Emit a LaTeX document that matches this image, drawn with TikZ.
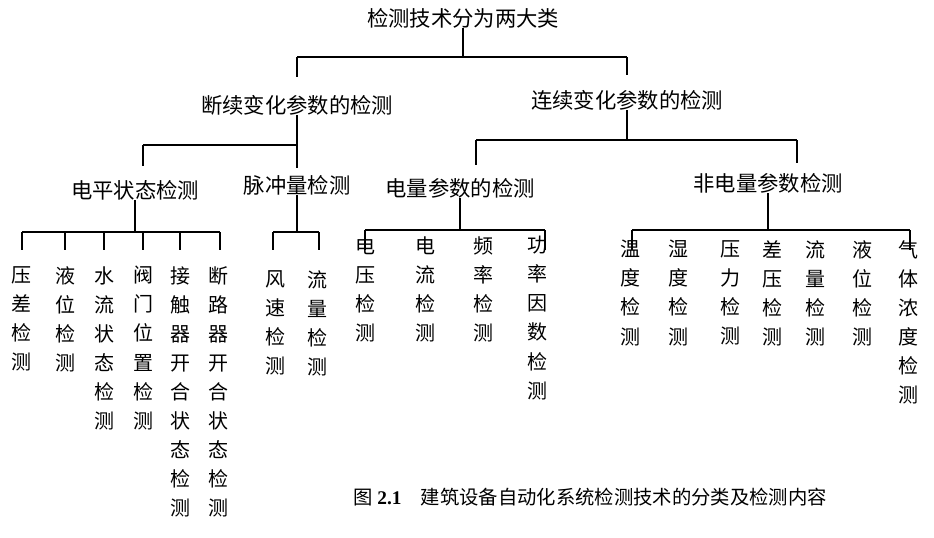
\documentclass[tikz,border=0pt]{standalone}
\usepackage{fontspec}
\setmainfont{Liberation Serif}
\newfontfamily\cjk{Noto Sans CJK SC}
\begin{document}
\begin{tikzpicture}[x=0.75pt,y=-0.75pt,
  hd/.style={font=\cjk\fontsize{16}{18}\selectfont,inner sep=0pt},
  lf/.style={font=\cjk\fontsize{15}{21.8}\selectfont,inner sep=0pt,anchor=north,align=center},
  ln/.style={line width=1.5pt}]
\useasboundingbox (0,0) rectangle (934,537);
\node[hd] (root) at (463,18) {检测技术分为两大类};
\node[hd] (a) at (297,105) {断续变化参数的检测};
\node[hd] (b) at (627,100) {连续变化参数的检测};
\node[hd] (a1) at (135,190) {电平状态检测};
\node[hd] (a2) at (297,185) {脉冲量检测};
\node[hd] (b1) at (460,188) {电量参数的检测};
\node[hd] (b2) at (768,183) {非电量参数检测};
% leaves
\foreach \n/\x/\t in {c1/22/压\\差\\检\\测, c2/65/液\\位\\检\\测, c3/104/水\\流\\状\\态\\检\\测, c4/143/阀\\门\\位\\置\\检\\测, c5/180/接\\触\\器\\开\\合\\状\\态\\检\\测, c6/218/断\\路\\器\\开\\合\\状\\态\\检\\测}
  \node[lf] (\n) at (\x,266) {\t};
\foreach \n/\x/\t in {d1/275/风\\速\\检\\测, d2/317/流\\量\\检\\测}
  \node[lf] (\n) at (\x,270) {\t};
\foreach \n/\x/\t in {e1/365/电\\压\\检\\测, e2/425/电\\流\\检\\测, e3/483/频\\率\\检\\测, e4/537/功\\率\\因\\数\\检\\测}
  \node[lf] (\n) at (\x,236) {\t};
\foreach \n/\x/\t in {f1/630/温\\度\\检\\测, f2/678/湿\\度\\检\\测, f3/730/压\\力\\检\\测, f4/772/差\\压\\检\\测, f5/815/流\\量\\检\\测, f6/862/液\\位\\检\\测, f7/908/气\\体\\浓\\度\\检\\测}
  \node[lf] (\n) at (\x,240) {\t};
% connectors
\coordinate (r0) at (463,57);
\draw[ln] (root.south) -- (r0);
\draw[ln] (297,57) -- (627,57);
\draw[ln] (297,57) -- (297,77) coordinate (ra);
\draw[ln] (627,57) -- (627,75) coordinate (rb);
\draw[ln] (a.south) -- (297,145);
\draw[ln] (143,145) -- (297,145);
\draw[ln] (143,145) -- (143,166);
\draw[ln] (297,145) -- (297,168);
\draw[ln] (b.south) -- (627,140);
\draw[ln] (476,140) -- (797,140);
\draw[ln] (476,140) -- (476,165);
\draw[ln] (797,140) -- (797,163);
\draw[ln] (a1.south) -- (135,232);
\draw[ln] (22,232) -- (220,232);
\foreach \x in {22,65,104,143,180,220} \draw[ln] (\x,232) -- (\x,250);
\draw[ln] (a2.south) -- (297,232);
\draw[ln] (273,232) -- (319,232);
\foreach \x in {273,319} \draw[ln] (\x,232) -- (\x,250);
\draw[ln] (b1.south) -- (460,230);
\draw[ln] (365,230) -- (545,230);
\foreach \x in {365,545} \draw[ln] (\x,230) -- (\x,250);
\draw[ln] (b2.south) -- (768,230);
\draw[ln] (632,230) -- (910,230);
\foreach \x in {632,910} \draw[ln] (\x,230) -- (\x,250);
\node[hd,font=\fontsize{14.5}{16}\selectfont] (cap) at (590,497) {{\cjk 图}\ \textbf{2.1}\quad{\cjk 建筑设备自动化系统检测技术的分类及检测内容}};
\end{tikzpicture}
\end{document}
